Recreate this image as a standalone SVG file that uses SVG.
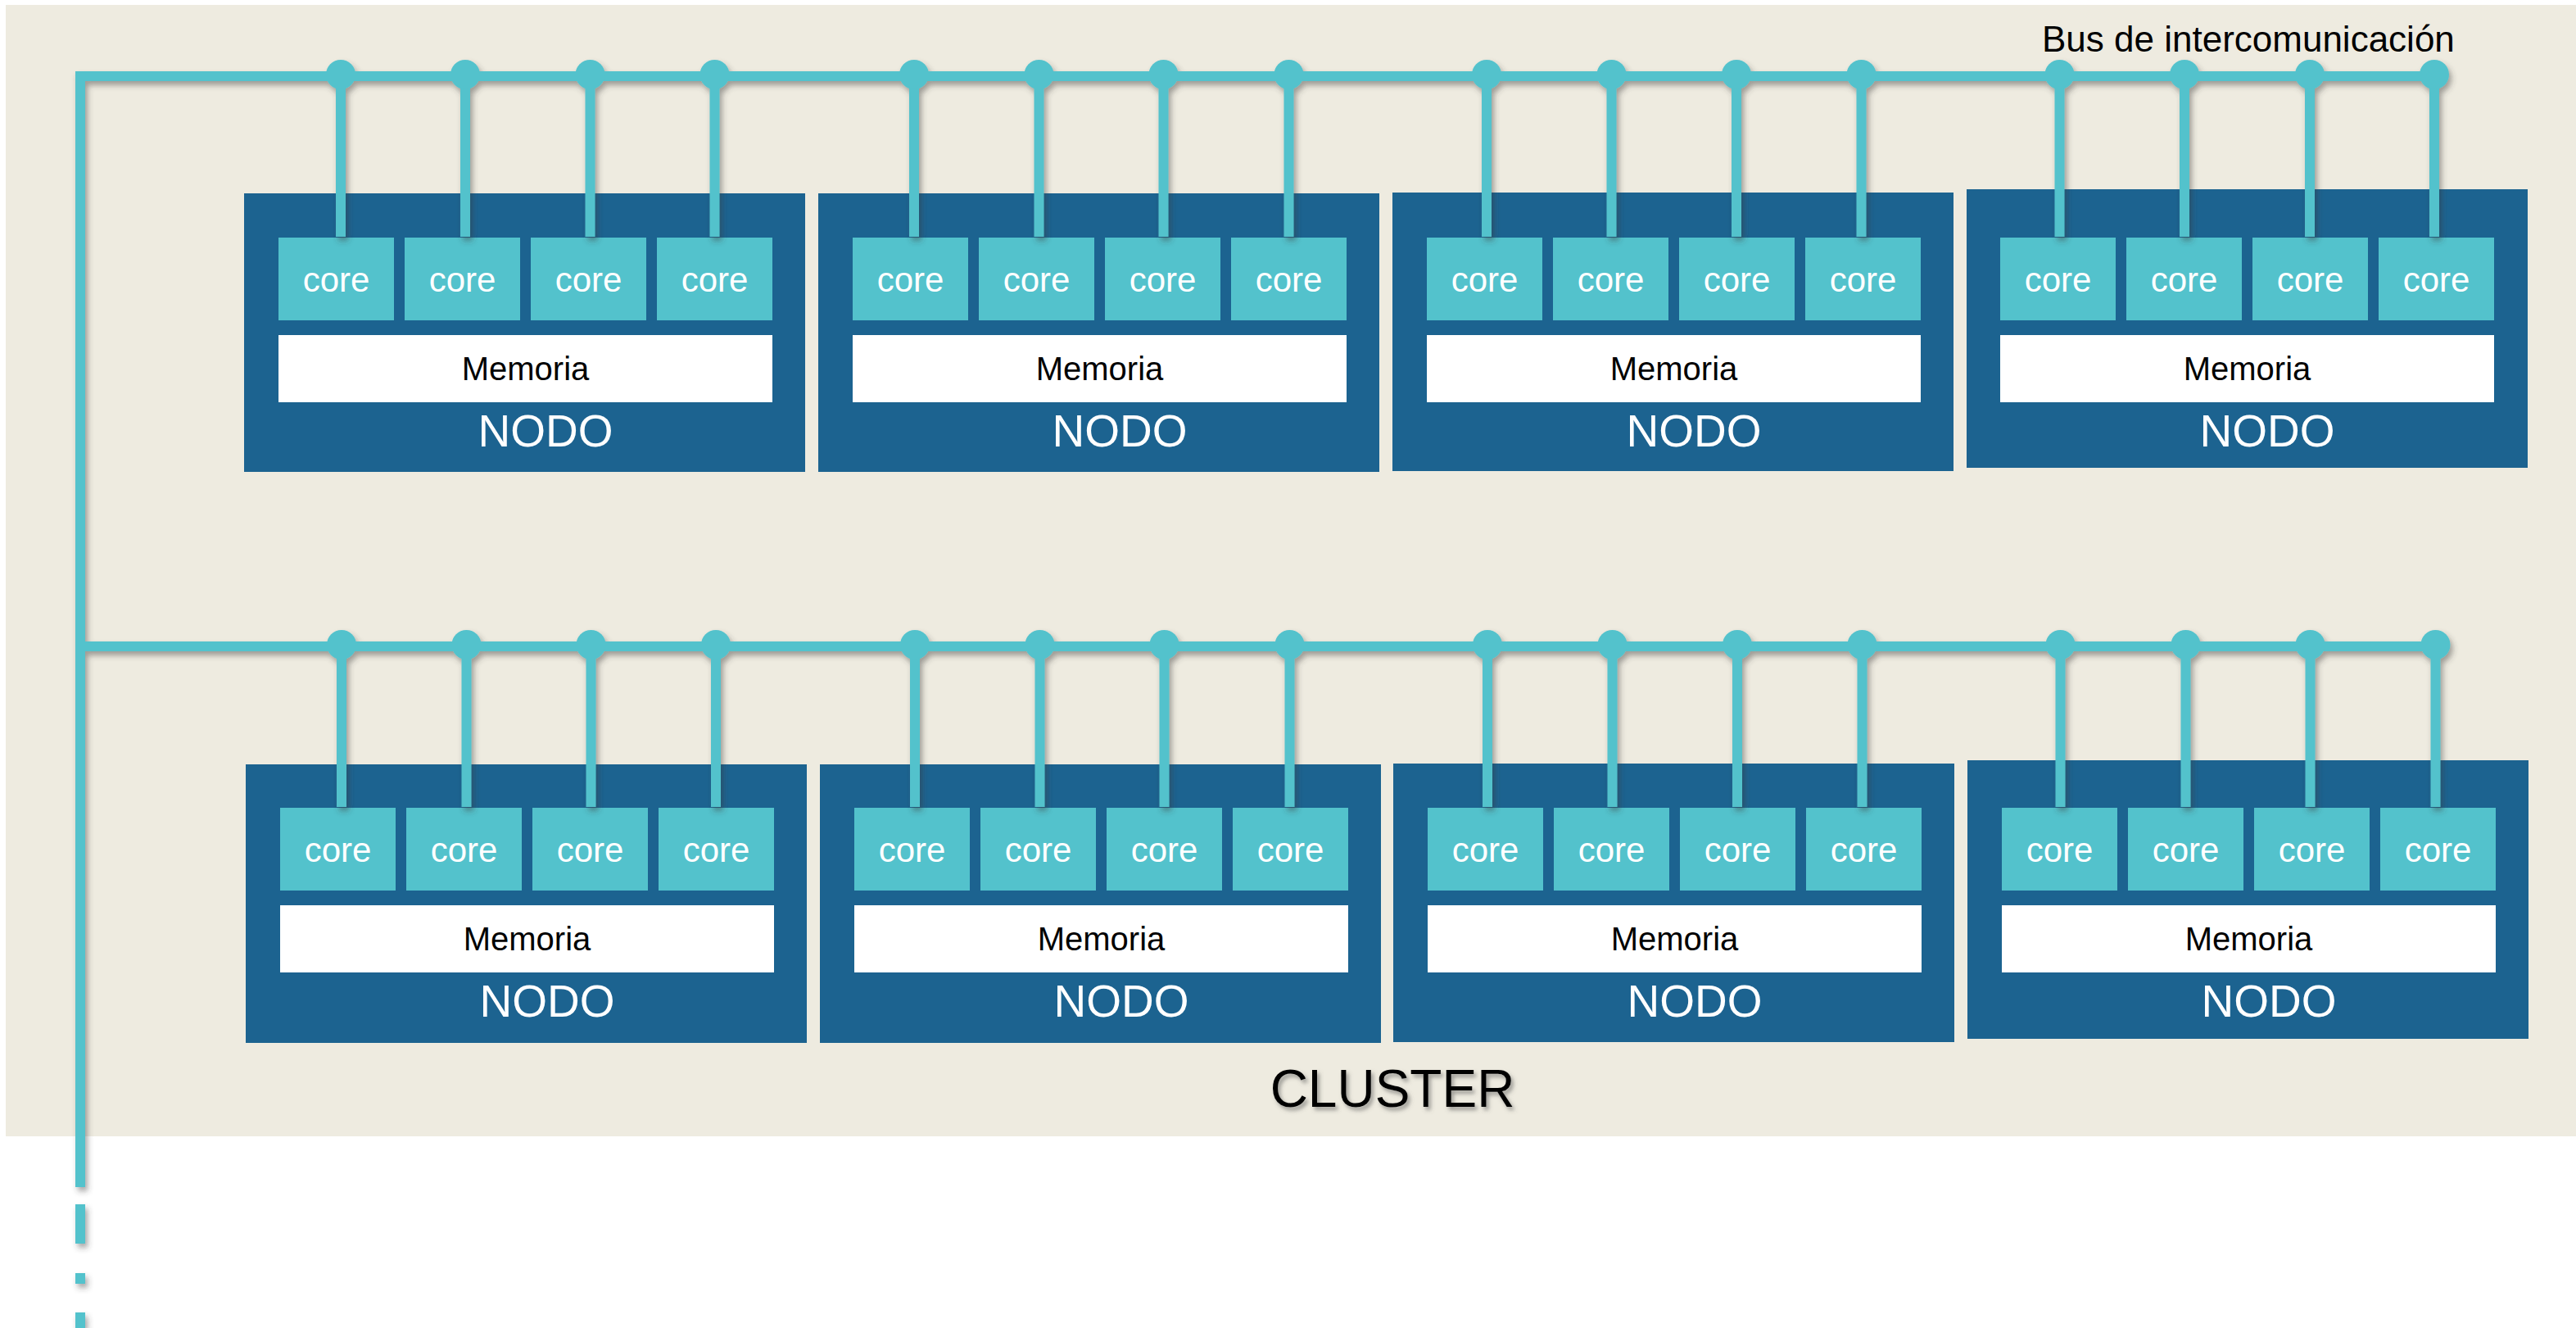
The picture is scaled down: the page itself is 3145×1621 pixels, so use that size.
<svg xmlns="http://www.w3.org/2000/svg" width="3145" height="1621" viewBox="0 0 3145 1621">
<defs>
<style>
.bus{fill:none;stroke:#53C2CC;stroke-width:12;stroke-linejoin:miter;stroke-linecap:butt}
.tap{stroke:#53C2CC;stroke-width:12}
.dot{fill:#53C2CC}
.node{fill:#1C6390}
.core{fill:#53C2CC}
.mem{fill:#FFFFFF}
.tcore{font-family:"Liberation Sans",Arial,sans-serif;font-size:42px;fill:#FFFFFF;text-anchor:middle}
.tmem{font-family:"Liberation Sans",Arial,sans-serif;font-size:40px;fill:#000000;text-anchor:middle}
.tnode{font-family:"Liberation Sans",Arial,sans-serif;font-size:55px;fill:#FFFFFF;text-anchor:middle}
</style>
<filter id="sh" x="-20%" y="-20%" width="140%" height="140%">
<feDropShadow dx="3" dy="5" stdDeviation="3.5" flood-color="#3a3a3a" flood-opacity="0.45"/>
</filter>
<filter id="tsh" x="-10%" y="-20%" width="120%" height="150%">
<feDropShadow dx="3" dy="4" stdDeviation="2.5" flood-color="#555" flood-opacity="0.55"/>
</filter>
<g id="nodeContent">
<rect class="core" x="42" y="54" width="141" height="101"/>
<rect class="core" x="196" y="54" width="141" height="101"/>
<rect class="core" x="350" y="54" width="141" height="101"/>
<rect class="core" x="504" y="54" width="141" height="101"/>
<text class="tcore" x="112.5" y="120">core</text>
<text class="tcore" x="266.5" y="120">core</text>
<text class="tcore" x="420.5" y="120">core</text>
<text class="tcore" x="574.5" y="120">core</text>
<rect class="mem" x="42" y="173" width="603" height="82"/>
<text class="tmem" x="343.5" y="228">Memoria</text>
<text class="tnode" x="368" y="309">NODO</text>
</g>
</defs>
<rect x="0" y="0" width="3145" height="1621" fill="#FFFFFF"/>
<rect id="cluster" x="7" y="6" width="3138" height="1381" fill="#EEEBE0"/>

<g id="nodes-row1">
<g id="node-1-1"><rect class="node" x="298" y="236" width="685" height="340"/><use href="#nodeContent" x="298" y="236"/></g>
<g id="node-1-2"><rect class="node" x="999" y="236" width="685" height="340"/><use href="#nodeContent" x="999" y="236"/></g>
<g id="node-1-3"><rect class="node" x="1700" y="235" width="685" height="340"/><use href="#nodeContent" x="1700" y="236"/></g>
<g id="node-1-4"><rect class="node" x="2401" y="231" width="685" height="340"/><use href="#nodeContent" x="2400" y="236"/></g>
</g>
<g id="nodes-row2">
<g id="node-2-1"><rect class="node" x="300" y="933" width="685" height="340"/><use href="#nodeContent" x="300" y="932"/></g>
<g id="node-2-2"><rect class="node" x="1001" y="933" width="685" height="340"/><use href="#nodeContent" x="1001" y="932"/></g>
<g id="node-2-3"><rect class="node" x="1701" y="932" width="685" height="340"/><use href="#nodeContent" x="1701" y="932"/></g>
<g id="node-2-4"><rect class="node" x="2402" y="928" width="685" height="340"/><use href="#nodeContent" x="2402" y="932"/></g>
</g>

<g id="connectors" filter="url(#sh)">
<path class="bus" d="M98 1449 V93 H2972"/>
<path class="bus" d="M98 789 H2973"/>
<line class="tap" x1="98" y1="1470" x2="98" y2="1518"/>
<line class="tap" x1="98" y1="1554" x2="98" y2="1567"/>
<line class="tap" x1="98" y1="1602" x2="98" y2="1621"/>
<g id="taps-row1">
<line class="tap" x1="416" y1="93" x2="416" y2="289"/>
<line class="tap" x1="568" y1="93" x2="568" y2="289"/>
<line class="tap" x1="720.5" y1="93" x2="720.5" y2="289"/>
<line class="tap" x1="872.5" y1="93" x2="872.5" y2="289"/>
<line class="tap" x1="1116" y1="93" x2="1116" y2="289"/>
<line class="tap" x1="1268.5" y1="93" x2="1268.5" y2="289"/>
<line class="tap" x1="1420.5" y1="93" x2="1420.5" y2="289"/>
<line class="tap" x1="1573.5" y1="93" x2="1573.5" y2="289"/>
<line class="tap" x1="1815" y1="93" x2="1815" y2="289"/>
<line class="tap" x1="1967.5" y1="93" x2="1967.5" y2="289"/>
<line class="tap" x1="2120" y1="93" x2="2120" y2="289"/>
<line class="tap" x1="2272.5" y1="93" x2="2272.5" y2="289"/>
<line class="tap" x1="2514.5" y1="93" x2="2514.5" y2="289"/>
<line class="tap" x1="2667" y1="93" x2="2667" y2="289"/>
<line class="tap" x1="2820" y1="93" x2="2820" y2="289"/>
<line class="tap" x1="2972" y1="93" x2="2972" y2="289"/>
<circle class="dot" cx="416" cy="91" r="18"/>
<circle class="dot" cx="568" cy="91" r="18"/>
<circle class="dot" cx="720.5" cy="91" r="18"/>
<circle class="dot" cx="872.5" cy="91" r="18"/>
<circle class="dot" cx="1116" cy="91" r="18"/>
<circle class="dot" cx="1268.5" cy="91" r="18"/>
<circle class="dot" cx="1420.5" cy="91" r="18"/>
<circle class="dot" cx="1573.5" cy="91" r="18"/>
<circle class="dot" cx="1815" cy="91" r="18"/>
<circle class="dot" cx="1967.5" cy="91" r="18"/>
<circle class="dot" cx="2120" cy="91" r="18"/>
<circle class="dot" cx="2272.5" cy="91" r="18"/>
<circle class="dot" cx="2514.5" cy="91" r="18"/>
<circle class="dot" cx="2667" cy="91" r="18"/>
<circle class="dot" cx="2820" cy="91" r="18"/>
<circle class="dot" cx="2972" cy="91" r="18"/>
</g>
<g id="taps-row2">
<line class="tap" x1="417" y1="789" x2="417" y2="985"/>
<line class="tap" x1="569.5" y1="789" x2="569.5" y2="985"/>
<line class="tap" x1="721.5" y1="789" x2="721.5" y2="985"/>
<line class="tap" x1="874" y1="789" x2="874" y2="985"/>
<line class="tap" x1="1117" y1="789" x2="1117" y2="985"/>
<line class="tap" x1="1269.5" y1="789" x2="1269.5" y2="985"/>
<line class="tap" x1="1421.5" y1="789" x2="1421.5" y2="985"/>
<line class="tap" x1="1574.5" y1="789" x2="1574.5" y2="985"/>
<line class="tap" x1="1816" y1="789" x2="1816" y2="985"/>
<line class="tap" x1="1968.5" y1="789" x2="1968.5" y2="985"/>
<line class="tap" x1="2121" y1="789" x2="2121" y2="985"/>
<line class="tap" x1="2273.5" y1="789" x2="2273.5" y2="985"/>
<line class="tap" x1="2515.5" y1="789" x2="2515.5" y2="985"/>
<line class="tap" x1="2668.5" y1="789" x2="2668.5" y2="985"/>
<line class="tap" x1="2820.5" y1="789" x2="2820.5" y2="985"/>
<line class="tap" x1="2973.5" y1="789" x2="2973.5" y2="985"/>
<circle class="dot" cx="417" cy="787" r="18"/>
<circle class="dot" cx="569.5" cy="787" r="18"/>
<circle class="dot" cx="721.5" cy="787" r="18"/>
<circle class="dot" cx="874" cy="787" r="18"/>
<circle class="dot" cx="1117" cy="787" r="18"/>
<circle class="dot" cx="1269.5" cy="787" r="18"/>
<circle class="dot" cx="1421.5" cy="787" r="18"/>
<circle class="dot" cx="1574.5" cy="787" r="18"/>
<circle class="dot" cx="1816" cy="787" r="18"/>
<circle class="dot" cx="1968.5" cy="787" r="18"/>
<circle class="dot" cx="2121" cy="787" r="18"/>
<circle class="dot" cx="2273.5" cy="787" r="18"/>
<circle class="dot" cx="2515.5" cy="787" r="18"/>
<circle class="dot" cx="2668.5" cy="787" r="18"/>
<circle class="dot" cx="2820.5" cy="787" r="18"/>
<circle class="dot" cx="2973.5" cy="787" r="18"/>
</g>
</g>

<text id="bus-label" x="2493" y="63" font-family="Liberation Sans, Arial, sans-serif" font-size="44" fill="#000000">Bus de intercomunicación</text>
<text id="cluster-label" x="1700" y="1351" font-family="Liberation Sans, Arial, sans-serif" font-size="64" fill="#000000" text-anchor="middle" filter="url(#tsh)">CLUSTER</text>
</svg>
